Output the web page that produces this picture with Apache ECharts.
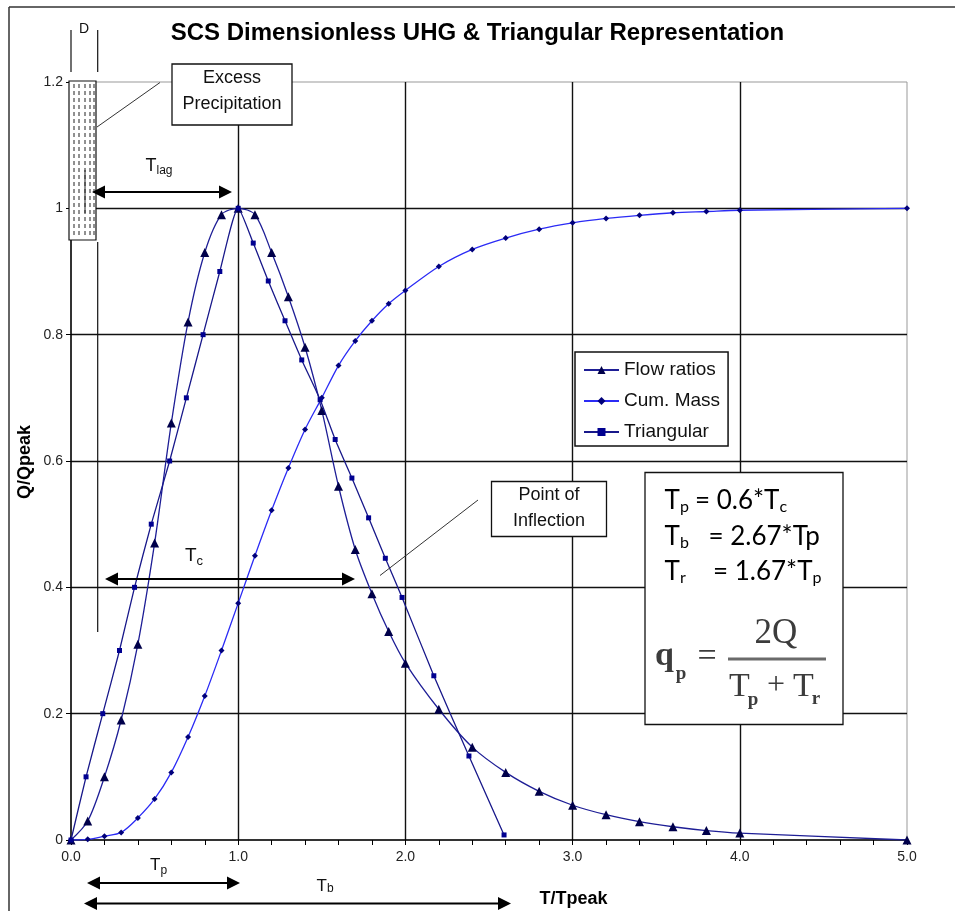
<!DOCTYPE html>
<html>
<head>
<meta charset="utf-8">
<script src="https://cdn.jsdelivr.net/npm/echarts@6/dist/echarts.min.js"></script>
<style>
  html, body { margin: 0; padding: 0; background: #fff; }
  #chart { width: 955px; height: 911px; }
</style>
</head>
<body>
<div id="chart"></div>
<script>
// SCS dimensionless unit hydrograph (T/Tpeak vs Q/Qpeak)
const flowT = [0, 0.1, 0.2, 0.3, 0.4, 0.5, 0.6, 0.7, 0.8, 0.9, 1.0, 1.1, 1.2, 1.3, 1.4, 1.5, 1.6, 1.7, 1.8, 1.9, 2.0, 2.2, 2.4, 2.6, 2.8, 3.0, 3.2, 3.4, 3.6, 3.8, 4.0, 5.0];
const flowQ = [0, 0.03, 0.10, 0.19, 0.31, 0.47, 0.66, 0.82, 0.93, 0.99, 1.00, 0.99, 0.93, 0.86, 0.78, 0.68, 0.56, 0.46, 0.39, 0.33, 0.28, 0.207, 0.147, 0.107, 0.077, 0.055, 0.040, 0.029, 0.021, 0.015, 0.011, 0];

// cumulative mass curve
const massT = [0, 0.1, 0.2, 0.3, 0.4, 0.5, 0.6, 0.7, 0.8, 0.9, 1.0, 1.1, 1.2, 1.3, 1.4, 1.5, 1.6, 1.7, 1.8, 1.9, 2.0, 2.2, 2.4, 2.6, 2.8, 3.0, 3.2, 3.4, 3.6, 3.8, 4.0, 5.0];
const massQ = [0, 0.001, 0.006, 0.012, 0.035, 0.065, 0.107, 0.163, 0.228, 0.300, 0.375, 0.450, 0.522, 0.589, 0.650, 0.700, 0.751, 0.790, 0.822, 0.849, 0.870, 0.908, 0.935, 0.953, 0.967, 0.977, 0.984, 0.989, 0.993, 0.995, 0.997, 1.000];

// triangular approximation
const triT = [0, 0.09, 0.19, 0.29, 0.38, 0.48, 0.59, 0.69, 0.79, 0.89, 1.0, 1.09, 1.18, 1.28, 1.38, 1.49, 1.58, 1.68, 1.78, 1.88, 1.98, 2.17, 2.38, 2.59];
const triQ = [0, 0.10, 0.20, 0.30, 0.40, 0.50, 0.60, 0.70, 0.80, 0.90, 1.00, 0.945, 0.885, 0.822, 0.760, 0.697, 0.634, 0.573, 0.510, 0.446, 0.384, 0.260, 0.133, 0.008];

const seriesNames = ['Flow ratios', 'Cum. Mass', 'Triangular'];
const titleText = 'SCS Dimensionless UHG & Triangular Representation';

const zip = (xs, ys) => xs.map((x, i) => [x, ys[i]]);
const SANS = 'Liberation Sans, Arial, sans-serif';

const chart = echarts.init(document.getElementById('chart'), null, { renderer: 'canvas' });

const option = {
  animation: false,
  backgroundColor: '#fff',
  title: {
    text: titleText,
    left: 'center',
    top: 16,
    textStyle: { fontFamily: SANS, fontSize: 24, fontWeight: 'bold', color: '#000' }
  },
  grid: {
    left: 71, right: 48, top: 82, bottom: 71,
    show: true, borderColor: '#999', borderWidth: 1, backgroundColor: 'transparent'
  },
  legend: {
    orient: 'vertical',
    left: 575, top: 352,
    padding: [8, 8, 4, 8],
    itemWidth: 35, itemHeight: 10, itemGap: 11,
    backgroundColor: '#fff',
    borderColor: '#111', borderWidth: 1.5, borderRadius: 0,
    textStyle: { fontFamily: SANS, fontSize: 19, color: '#111', lineHeight: 20 },
    data: seriesNames
  },
  xAxis: {
    type: 'value', min: 0, max: 5, interval: 1,
    axisLine: { lineStyle: { color: '#000', width: 1.5 } },
    axisTick: { show: true, length: 5, lineStyle: { color: '#000' } },
    minorTick: { show: true, splitNumber: 5, length: 5, lineStyle: { color: '#000' } },
    axisLabel: { fontFamily: SANS, fontSize: 14, color: '#222', margin: 10, formatter: v => v.toFixed(1) },
    splitLine: { show: true, showMinLine: false, showMaxLine: false, lineStyle: { color: '#111', width: 1.4 } }
  },
  yAxis: {
    type: 'value', min: 0, max: 1.2, interval: 0.2,
    axisLine: { show: true, lineStyle: { color: '#000', width: 1.5 } },
    axisTick: { show: true, length: 5, lineStyle: { color: '#000' } },
    axisLabel: { fontFamily: SANS, fontSize: 14, color: '#222', margin: 8,
      formatter: v => v === 0 ? '0' : String(Math.round(v * 10) / 10) },
    splitLine: { show: true, showMinLine: false, showMaxLine: false, lineStyle: { color: '#111', width: 1.4 } }
  },
  series: [
    {
      name: seriesNames[0], type: 'line', data: zip(flowT, flowQ),
      smooth: 0.3, symbol: 'triangle', symbolSize: 9,
      lineStyle: { color: '#1e1e96', width: 1.3 },
      itemStyle: { color: '#00004a' }, z: 3
    },
    {
      name: seriesNames[1], type: 'line', data: zip(massT, massQ),
      smooth: 0.3, symbol: 'diamond', symbolSize: 6,
      lineStyle: { color: '#2b2bf5', width: 1.3 },
      itemStyle: { color: '#00007a' }, z: 2
    },
    {
      name: seriesNames[2], type: 'line', data: zip(triT, triQ),
      smooth: 0.2, symbol: 'rect', symbolSize: 5,
      lineStyle: { color: '#18188a', width: 1.3 },
      itemStyle: { color: '#000090' }, z: 4
    }
  ]
};
chart.setOption(option);

// ---- annotations -------------------------------------------------------
const measureCtx = document.createElement('canvas').getContext('2d');
function textWidth(str, font) { measureCtx.font = font; return measureCtx.measureText(str).width; }

function txt(x, y, str, size, opts = {}) {
  return {
    type: 'text', x, y, z: 100, rotation: opts.rotation || 0,
    style: {
      text: str, fill: opts.color || '#111',
      font: (opts.weight || 'normal') + ' ' + size + 'px ' + (opts.family || SANS),
      align: opts.align || 'left', verticalAlign: 'middle'
    }
  };
}
function line(x1, y1, x2, y2, opts = {}) {
  return {
    type: 'line', z: 90,
    shape: { x1, y1, x2, y2 },
    style: { stroke: opts.color || '#111', lineWidth: opts.width || 1, lineDash: opts.dash || null }
  };
}
function arrow(x1, x2, y) {
  const L = 13, h = 6.5;
  return [
    line(x1 + L - 2, y, x2 - L + 2, y, { color: '#000', width: 1.8 }),
    { type: 'polygon', z: 91, shape: { points: [[x1, y], [x1 + L, y - h], [x1 + L, y + h]] }, style: { fill: '#000' } },
    { type: 'polygon', z: 91, shape: { points: [[x2, y], [x2 - L, y - h], [x2 - L, y + h]] }, style: { fill: '#000' } }
  ];
}
// a run of text pieces, e.g. main letters followed by subscripts
function run(x, y, parts, family, color) {
  const out = [];
  let cx = x;
  parts.forEach(p => {
    if (p.x !== undefined) cx = p.x;
    const font = (p.weight || 'normal') + ' ' + p.size + 'px ' + family;
    out.push(txt(cx, y + (p.dy || 0), p.t, p.size, { family, color, weight: p.weight }));
    cx += textWidth(p.t, font);
  });
  return out;
}
function box(x, y, w, h) {
  return { type: 'rect', z: 80, shape: { x, y, width: w, height: h },
           style: { fill: '#fff', stroke: '#111', lineWidth: 1.3 } };
}

const g = [];
// outer frame
g.push(line(9, 7, 955, 7, { color: '#333', width: 1.5 }));
g.push(line(9, 7, 9, 911, { color: '#333', width: 1.5 }));

// D bracket and excess precipitation bar
g.push(line(71, 30, 71, 72, { color: '#111', width: 1.2 }));
g.push(line(97.7, 30, 97.7, 72, { color: '#111', width: 1.2 }));
g.push(txt(84, 29, 'D', 14, { align: 'center' }));
g.push(line(97.7, 242, 97.7, 632, { color: '#111', width: 1.2 }));
g.push({ type: 'rect', z: 85, shape: { x: 69, y: 81, width: 27, height: 159 },
         style: { fill: '#fff', stroke: '#111', lineWidth: 1.2 } });
[74, 79, 85, 90, 94].forEach(x => g.push({ ...line(x, 84, x, 237, { color: '#222', width: 1, dash: [4, 3] }), z: 86 }));
g.push({ ...line(85, 170, 85, 213, { color: '#222', width: 1 }), z: 86 });

g.push(line(97, 127, 160, 82.5, { color: '#333', width: 1 }));
g.push(box(172, 64, 120, 61));
g.push(txt(232, 78, 'Excess', 18, { align: 'center' }));
g.push(txt(232, 104, 'Precipitation', 18, { align: 'center' }));

// T lag
g.push(...arrow(92, 232, 192));
g.push(...run(145.5, 166.5, [{ t: 'T', size: 18 }, { t: 'lag', size: 12, dy: 4 }], SANS, '#111'));

// T c
g.push(...arrow(105, 355, 579));
g.push(...run(185, 556, [{ t: 'T', size: 19 }, { t: 'c', size: 13, dy: 5 }], SANS, '#111'));

// T p and T b below the axis
g.push(...arrow(87, 240, 883));
g.push(...run(150, 865, [{ t: 'T', size: 17 }, { t: 'p', size: 12, dy: 6 }], SANS, '#111'));
g.push(...arrow(84, 511, 903.5));
g.push(...run(316.5, 886, [{ t: 'T', size: 17 }, { t: 'b', size: 12, dy: 3 }], SANS, '#111'));

// axis titles
g.push(txt(573.5, 899, 'T/Tpeak', 18, { align: 'center', weight: 'bold', color: '#000' }));
g.push(txt(25, 462, 'Q/Qpeak', 18, { align: 'center', weight: 'bold', color: '#000', rotation: Math.PI / 2 }));

// point of inflection
g.push(line(380, 575.5, 478, 500, { color: '#333', width: 1 }));
g.push(box(491.5, 481.5, 115, 55));
g.push(txt(549, 495, 'Point of', 18, { align: 'center' }));
g.push(txt(549, 521, 'Inflection', 18, { align: 'center' }));

// relations box
const CAL = 'Lato, Carlito, sans-serif';
g.push(box(645, 472.5, 198, 252));
g.push(...run(664.6, 501, [
  { t: 'T', size: 26 }, { t: 'p', size: 16, dy: 6 },
  { t: '= 0.6*T', size: 26, x: 695 }, { t: 'c', size: 16, dy: 6 }
], CAL, '#000'));
g.push(...run(664.6, 536.5, [
  { t: 'T', size: 26 }, { t: 'b', size: 16, dy: 6 },
  { t: '= 2.67*Tp', size: 26, x: 708.5 }
], CAL, '#000'));
g.push(...run(664.6, 572, [
  { t: 'T', size: 26 }, { t: 'r', size: 16, dy: 6 },
  { t: '= 1.67*T', size: 26, x: 713 }, { t: 'p', size: 16, dy: 6 }
], CAL, '#000'));

// peak rate relation
const SERIF = 'Liberation Serif, Times New Roman, serif';
const EQ = '#3c3c3c';
g.push(txt(664.5, 656, 'q', 34, { family: SERIF, color: EQ, align: 'center', weight: 'bold' }));
g.push(txt(681, 674, 'p', 19, { family: SERIF, color: EQ, align: 'center', weight: 'bold' }));
g.push(txt(707, 657, '=', 34, { family: SERIF, color: EQ, align: 'center' }));
g.push(txt(776, 634, '2Q', 35, { family: SERIF, color: EQ, align: 'center' }));
g.push(line(728, 659, 826, 659, { color: '#6a6a6a', width: 3 }));
g.push(txt(739.5, 687, 'T', 34, { family: SERIF, color: EQ, align: 'center' }));
g.push(txt(753, 700, 'p', 19, { family: SERIF, color: EQ, align: 'center', weight: 'bold' }));
g.push(txt(776, 686, '+', 32, { family: SERIF, color: EQ, align: 'center' }));
g.push(txt(803.5, 687, 'T', 34, { family: SERIF, color: EQ, align: 'center' }));
g.push(txt(816, 699, 'r', 19, { family: SERIF, color: EQ, align: 'center', weight: 'bold' }));

chart.setOption({ graphic: { elements: g } });
</script>
</body>
</html>
